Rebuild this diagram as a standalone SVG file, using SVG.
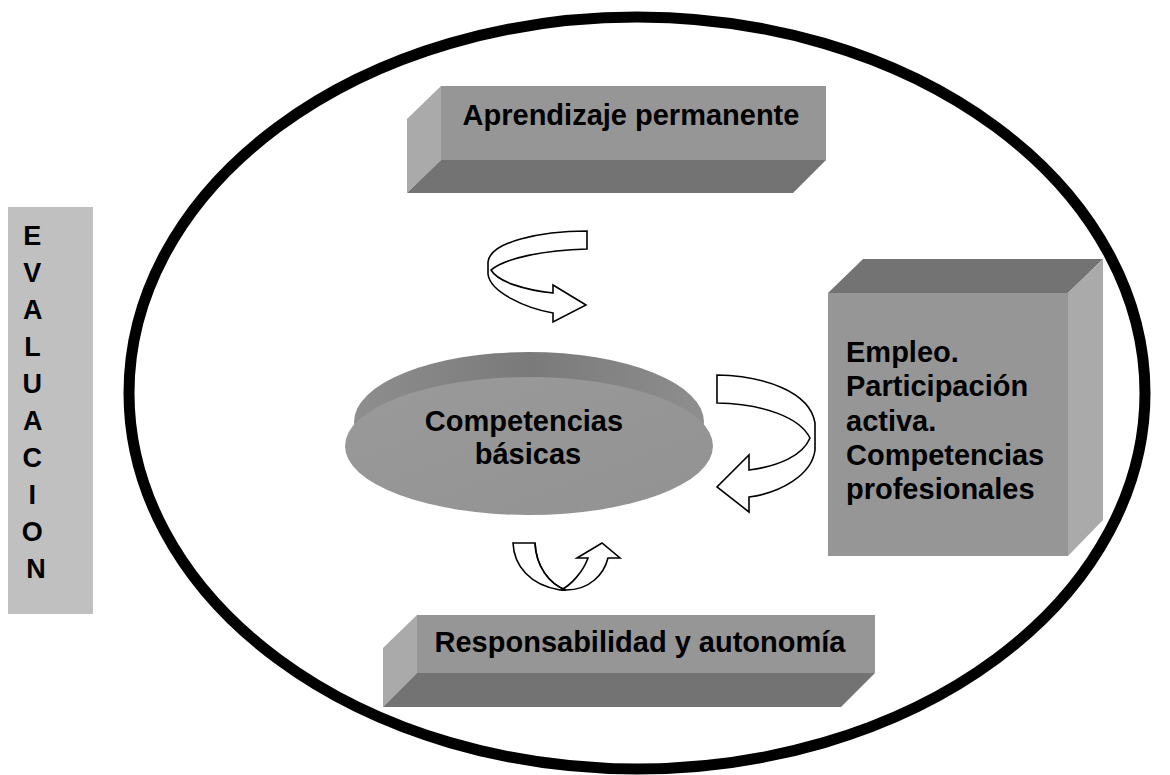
<svg xmlns="http://www.w3.org/2000/svg" width="1170" height="775" viewBox="0 0 1170 775">
  <defs>
    <linearGradient id="discRim" x1="0" y1="0" x2="1" y2="0">
      <stop offset="0" stop-color="#8e8e8e"/>
      <stop offset="0.5" stop-color="#7a7a7a"/>
      <stop offset="1" stop-color="#8e8e8e"/>
    </linearGradient>
    <linearGradient id="discFace" x1="0" y1="0" x2="1" y2="1">
      <stop offset="0" stop-color="#9a9a9a"/>
      <stop offset="1" stop-color="#929292"/>
    </linearGradient>
  </defs>
  <style>
    .lbl { font-family: "Liberation Sans", Arial, sans-serif; font-weight: bold; fill: #000; }
    .box-front { fill: #969696; }
    .box-dark { fill: #737373; }
    .box-light { fill: #aaaaaa; }
    .arrow { fill: #ffffff; stroke: #000; stroke-width: 1.6; stroke-linejoin: miter; }
    .arrow-line { fill: none; stroke: #000; stroke-width: 1.6; }
  </style>

  <rect width="1170" height="775" fill="#ffffff"/>

  <!-- vertical evaluation bar -->
  <g id="node-evaluacion">
    <rect x="8" y="207" width="85" height="407" fill="#c0c0c0"/>
    <text class="lbl" font-size="27" text-anchor="middle">
      <tspan x="36" y="245">E</tspan>
      <tspan x="36" y="282">V</tspan>
      <tspan x="36" y="319">A</tspan>
      <tspan x="36" y="356">L</tspan>
      <tspan x="36" y="393">U</tspan>
      <tspan x="36" y="430">A</tspan>
      <tspan x="36" y="467">C</tspan>
      <tspan x="36" y="504">I</tspan>
      <tspan x="36" y="541">O</tspan>
      <tspan x="36" y="578">N</tspan>
    </text>
  </g>

  <!-- enclosing ring -->
  <g id="frame">
    <ellipse cx="637" cy="393" rx="508" ry="376" fill="none" stroke="#000" stroke-width="11"/>
  </g>

  <!-- top bevelled block -->
  <g id="node-aprendizaje">
    <polygon class="box-light" points="407,119 441,86 441,160 407,193"/>
    <polygon class="box-dark" points="441,160 826,160 793,193 407,193"/>
    <rect class="box-front" x="441" y="86" width="385" height="74"/>
    <text class="lbl" x="631" y="125" font-size="29" text-anchor="middle">Aprendizaje permanente</text>
  </g>

  <!-- right cube -->
  <g id="node-empleo">
    <polygon class="box-dark" points="828,293 863,259 1103,259 1068,293"/>
    <polygon class="box-light" points="1068,293 1103,259 1103,520 1068,556"/>
    <rect class="box-front" x="828" y="293" width="240" height="263"/>
    <text class="lbl" font-size="29">
      <tspan x="846" y="362">Empleo.</tspan>
      <tspan x="846" y="396">Participación</tspan>
      <tspan x="846" y="431">activa.</tspan>
      <tspan x="846" y="465">Competencias</tspan>
      <tspan x="846" y="499">profesionales</tspan>
    </text>
  </g>

  <!-- central disc -->
  <g id="node-competencias">
    <ellipse cx="529" cy="422" rx="175" ry="70" fill="url(#discRim)"/>
    <ellipse cx="529" cy="446" rx="184" ry="69" fill="url(#discFace)"/>
    <text class="lbl" font-size="29" text-anchor="middle">
      <tspan x="528" y="431">Competencias</tspan>
      <tspan x="528" y="464">básicas</tspan>
    </text>
  </g>

  <!-- bottom bevelled block -->
  <g id="node-responsabilidad">
    <polygon class="box-light" points="383,648 417,615 417,673 383,707"/>
    <polygon class="box-dark" points="417,673 875,673 841,707 383,707"/>
    <rect class="box-front" x="417" y="615" width="458" height="58"/>
    <text class="lbl" x="640" y="652" font-size="29" text-anchor="middle">Responsabilidad y autonomía</text>
  </g>

  <!-- curved ribbon arrows -->
  <g id="connectors">
    <path class="arrow" d="M587,231 C540,231 490,242 488,262 L488,274 C490,292 525,308 553,313 L553,322 L586,305 L553,285 L553,293 C525,290 498,282 491,270 C505,258 545,250 587,249 Z"/>
    <path class="arrow" d="M717,375 C765,376 810,392 815,423 L815,450 C812,475 780,493 749,497 L749,512 L717,487 L749,455 L749,470 C780,466 803,455 810,438 C800,418 765,404 717,403 Z"/>
    <path class="arrow" d="M513,543 L535,543 C536,566 549,584 566,590 L560,590 C530,585 514,566 513,543 Z"/>
    <path class="arrow" d="M561,590 C571,585 583,572 588,558 L577,558 L602,543 L620,558 L608,558 C604,574 590,590 566,590 Z"/>
    <path class="arrow-line" d="M535,543 C536,566 549,584 566,590"/>
  </g>
</svg>
